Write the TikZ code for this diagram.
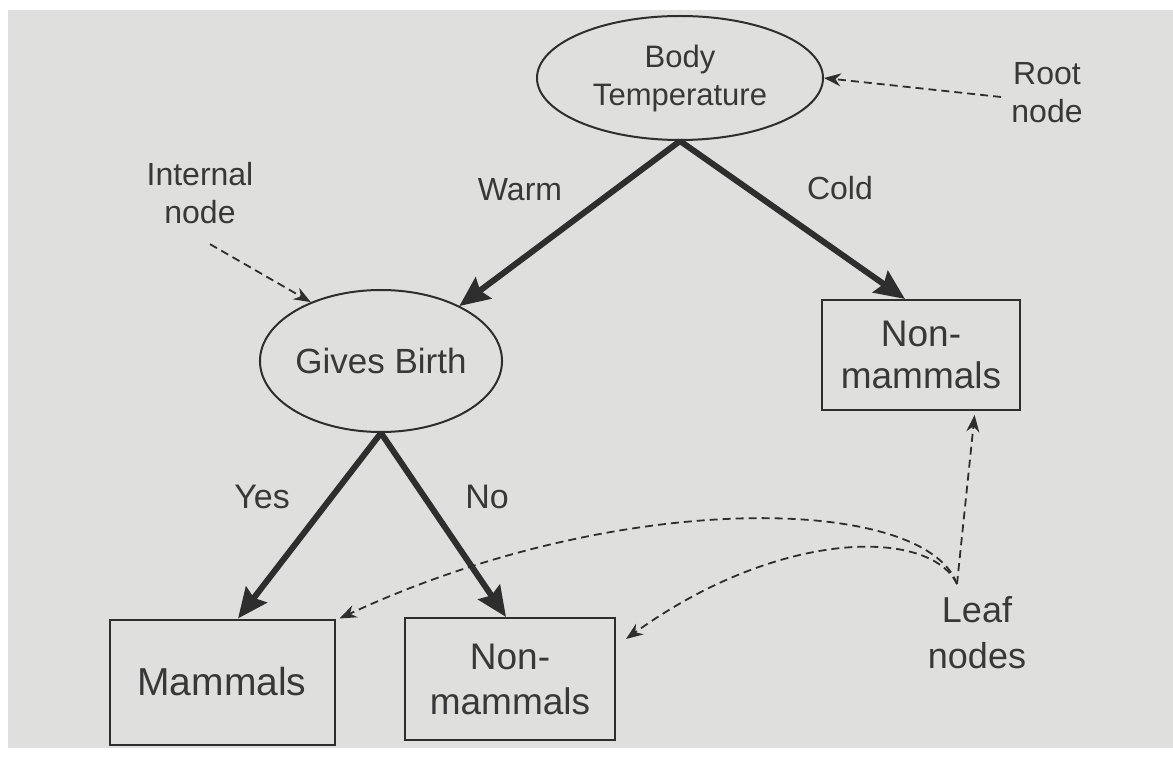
\documentclass[tikz,border=0pt]{standalone}
\usepackage{fontspec}
\setmainfont{Liberation Sans}
\usetikzlibrary{shapes.geometric,arrows.meta}
\definecolor{ink}{HTML}{2E2E2E}
\definecolor{txt}{HTML}{383838}
\definecolor{paper}{HTML}{DFDFDD}
\tikzset{
  every node/.style={text=txt},
  oval/.style={ellipse,draw=ink,line width=1pt,inner sep=0pt,align=center},
  leafbox/.style={rectangle,draw=ink,line width=1pt,inner sep=0pt,align=center},
  branch/.style={draw=ink,line width=3pt,-{Stealth[length=15pt,width=13pt,inset=2pt]}},
  pointer/.style={draw=ink,line width=0.9pt,dash pattern=on 4pt off 2.5pt,-{Stealth[length=8.5pt,width=6.5pt]}},
  lbl/.style={align=center,inner sep=0pt},
}
\begin{document}
\begin{tikzpicture}[x=0.5pt,y=-0.5pt]
\useasboundingbox (0,0) rectangle (1173,759);
\fill[white] (0,0) rectangle (1173,759);
\fill[paper] (8,10) rectangle (1173,748);

% nodes
\node[oval,minimum width=143pt,minimum height=62pt,font=\fontsize{15.5}{19}\selectfont] (root) at (680,78) {Body\\Temperature};
\node[oval,minimum width=119pt,minimum height=71pt,font=\fontsize{17.5}{20}\selectfont] (gb) at (381,361) {Gives Birth};
\node[leafbox,minimum width=99pt,minimum height=55pt,font=\fontsize{18.5}{21}\selectfont] (nm1) at (921,355) {Non-\\mammals};
\node[leafbox,minimum width=112.5pt,minimum height=62.5pt,font=\fontsize{19.5}{22}\selectfont] (mam) at (222,682) {Mammals};
\node[leafbox,minimum width=105pt,minimum height=61pt,font=\fontsize{18.5}{22.5}\selectfont] (nm2) at (510,679) {Non-\\mammals};

% branch labels
\node[lbl,font=\fontsize{16}{19}\selectfont] (warm) at (520,190) {Warm};
\node[lbl,font=\fontsize{16}{19}\selectfont] (cold) at (840,188) {Cold};
\node[lbl,font=\fontsize{17}{20}\selectfont] (yes) at (262,497) {Yes};
\node[lbl,font=\fontsize{17}{20}\selectfont] (no) at (487,497) {No};

% annotation labels
\node[lbl,font=\fontsize{16}{19}\selectfont] (rootlbl) at (1047,93) {Root\\node};
\node[lbl,font=\fontsize{16}{19}\selectfont] (intlbl) at (200,193) {Internal\\node};
\node[lbl,font=\fontsize{18}{23}\selectfont] (leaflbl) at (977,633) {Leaf\\nodes};
\coordinate (leaftop) at (957,584);

% branches
\draw[branch] (root.south) -- ([xshift=-4pt,yshift=2pt]gb.north east);
\draw[branch] (root.south) -- ([xshift=-8pt]nm1.north);
\draw[branch] (gb.south) -- ([xshift=8pt]mam.north);
\draw[branch] (gb.south) -- ([xshift=-2pt]nm2.north);

% pointers
\draw[pointer] ([xshift=-5pt,yshift=-2pt]rootlbl.west) -- (root.east);
\draw[pointer] ([xshift=5pt,yshift=-10pt]intlbl.south) -- (gb.140);
\draw[pointer] (leaftop) .. controls (925,495) and (620,488) .. ([xshift=2pt]mam.north east);
\draw[pointer] (leaftop) .. controls (930,528) and (780,528) .. ([xshift=5pt,yshift=20pt]nm2.east);
\draw[pointer,shorten >=2pt] (leaftop) -- ([xshift=27pt]nm1.south);
\end{tikzpicture}
\end{document}
